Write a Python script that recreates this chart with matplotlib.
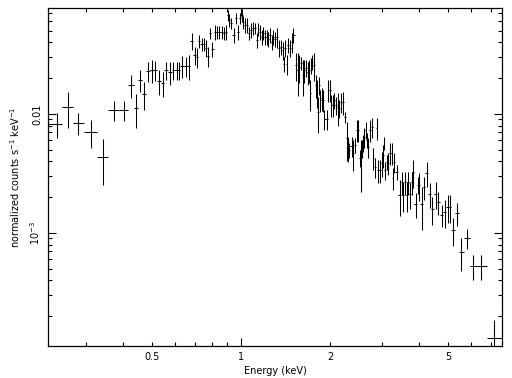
import numpy as np
import matplotlib
matplotlib.use("Agg")
import matplotlib.pyplot as plt
from matplotlib.ticker import FixedLocator, FixedFormatter, NullFormatter

# Spectrum: bin centres (keV), flux and 1-sigma error (units of 1e-3)
energy = [
    0.239, 0.260, 0.281, 0.311, 0.342, 0.372, 0.403, 0.425, 0.442, 0.456,
    0.470, 0.485, 0.500, 0.512, 0.528, 0.545, 0.558, 0.576, 0.589, 0.608,
    0.617, 0.632, 0.652, 0.667, 0.683, 0.699, 0.710, 0.721, 0.738, 0.750,
    0.762, 0.774, 0.786, 0.798, 0.817, 0.830, 0.843, 0.863, 0.876, 0.890,
    0.904, 0.911, 0.925, 0.947, 0.962, 0.977, 0.992, 1.008, 1.016, 1.032,
    1.048, 1.064, 1.081, 1.098, 1.115, 1.133, 1.141, 1.159, 1.177, 1.187,
    1.205, 1.224, 1.234, 1.253, 1.273, 1.283, 1.303, 1.323, 1.344, 1.365,
    1.386, 1.397, 1.408, 1.430, 1.441, 1.464, 1.487, 1.499, 1.534, 1.558,
    1.570, 1.595, 1.620, 1.633, 1.658, 1.684, 1.697, 1.711, 1.724, 1.737,
    1.765, 1.792, 1.806, 1.820, 1.835, 1.849, 1.878, 1.893, 1.908, 1.952,
    1.968, 1.999, 2.014, 2.046, 2.062, 2.094, 2.127, 2.143, 2.177, 2.211,
    2.246, 2.281, 2.299, 2.317, 2.371, 2.390, 2.427, 2.465, 2.485, 2.524,
    2.543, 2.563, 2.583, 2.604, 2.644, 2.665, 2.686, 2.728, 2.771, 2.792,
    2.836, 2.880, 2.903, 2.948, 2.995, 3.018, 3.042, 3.065, 3.113, 3.138,
    3.187, 3.237, 3.262, 3.288, 3.365, 3.444, 3.498, 3.526, 3.581, 3.637,
    3.666, 3.723, 3.781, 3.811, 3.901, 3.962, 3.993, 4.087, 4.151, 4.249,
    4.349, 4.417, 4.557, 4.628, 4.775, 4.888, 5.003, 5.081, 5.201, 5.366,
    5.536, 5.801, 6.078, 6.470, 7.156,
]
flux_e3 = [
    8.24, 11.45, 8.40, 7.06, 4.35, 10.8, 10.8, 17.5, 11.2, 19.3,
    14.7, 23.0, 23.4, 23.4, 18.9, 18.2, 23.4, 22.5, 23.4, 23.4,
    23.4, 25.3, 25.3, 25.3, 41.1, 31.3, 30.1, 41.1, 38.7, 38.7,
    35.9, 30.7, 47.9, 35.2, 48.9, 48.9, 48.9, 48.9, 47.9, 48.9,
    67.9, 61.7, 58.2, 46.1, 64.1, 48.9, 64.1, 67.9, 59.3, 56.0,
    56.0, 47.9, 50.8, 52.8, 52.8, 41.9, 51.8, 48.9, 44.4, 47.9,
    44.4, 44.4, 42.7, 46.1, 40.3, 44.4, 42.7, 44.4, 35.9, 36.6,
    34.5, 26.3, 35.9, 26.3, 38.0, 35.9, 40.3, 46.1, 25.8, 23.4,
    24.8, 26.8, 21.3, 23.4, 24.4, 22.5, 23.4, 15.0, 25.8, 27.4,
    25.8, 17.5, 15.3, 10.4, 17.5, 13.1, 13.6, 13.1, 9.08, 9.08,
    15.9, 15.9, 11.9, 11.9, 13.1, 11.9, 11.45, 11.2, 12.6, 12.6,
    9.44, 6.29, 5.18, 4.98, 5.38, 4.70, 5.49, 7.34, 7.34, 4.27,
    4.11, 5.18, 5.71, 6.41, 7.34, 6.05, 5.28, 7.34, 7.78, 4.27,
    3.59, 7.63, 3.38, 3.38, 3.88, 4.52, 5.71, 3.38, 3.95, 3.88,
    4.70, 4.70, 2.90, 3.95, 3.26, 2.09, 2.68, 2.09, 2.68, 2.09,
    2.68, 2.13, 2.68, 3.26, 1.75, 2.53, 2.53, 1.75, 2.43, 3.19,
    2.13, 1.59, 2.13, 1.82, 1.42, 1.50, 1.65, 1.65, 1.06, 1.47,
    0.692, 0.908, 0.528, 0.528, 0.131,
]
err_e3 = [
    1.96, 3.85, 1.80, 1.84, 1.82, 2.1, 2.1, 3.8, 3.5, 4.1,
    3.9, 4.4, 5.0, 4.5, 4.5, 4.3, 4.0, 4.9, 4.0, 4.0,
    4.0, 5.4, 4.8, 6.0, 6.8, 5.3, 5.8, 5.0, 4.8, 4.8,
    6.0, 5.9, 4.9, 5.1, 7.1, 6.0, 6.0, 6.0, 5.9, 7.1,
    6.9, 7.5, 5.9, 6.7, 6.5, 7.1, 6.5, 8.0, 7.0, 8.1,
    8.1, 5.9, 7.4, 6.5, 5.4, 6.0, 6.4, 7.1, 6.4, 5.9,
    6.4, 6.4, 6.2, 6.7, 5.8, 6.4, 6.2, 8.4, 6.0, 5.3,
    5.8, 3.8, 6.0, 5.0, 5.5, 6.0, 7.6, 6.7, 6.8, 9.2,
    6.5, 3.5, 7.1, 5.0, 4.0, 4.9, 5.0, 4.3, 4.0, 3.9,
    6.8, 3.8, 4.0, 3.5, 3.0, 2.8, 2.9, 2.8, 1.7, 1.7,
    3.4, 3.4, 2.5, 2.5, 2.0, 2.0, 3.5, 1.9, 2.4, 2.7,
    1.0, 2.3, 1.2, 0.7, 1.0, 1.35, 0.8, 1.56, 1.56, 0.71,
    1.9, 0.87, 0.95, 1.2, 1.2, 0.87, 1.0, 1.56, 1.5, 0.9,
    0.7, 1.6, 0.73, 0.73, 0.9, 0.97, 0.7, 0.57, 0.57, 0.82,
    1.0, 1.0, 0.62, 0.75, 0.47, 0.7, 0.58, 0.6, 0.58, 0.6,
    0.58, 0.55, 0.58, 0.85, 0.42, 0.42, 0.66, 0.68, 0.52, 0.76,
    0.5, 0.42, 0.55, 0.39, 0.3, 0.39, 0.44, 0.44, 0.28, 0.32,
    0.216, 0.17, 0.125, 0.125, 0.055,
]
e_first_lo = 0.223
e_last_hi = 7.62

E = np.array(energy)
F = np.array(flux_e3) * 1e-3
dF = np.array(err_e3) * 1e-3

# contiguous bins: edges halfway (in log) between neighbouring centres
mids = np.sqrt(E[:-1] * E[1:])
lo = np.concatenate([[e_first_lo], mids])
hi = np.concatenate([mids, [e_last_hi]])

plt.rcParams['font.family'] = 'DejaVu Sans'
fig = plt.figure(figsize=(5.12, 3.78), dpi=100)
ax = fig.add_axes([48 / 512, 1 - 346 / 378, 454 / 512, 338 / 378])

ax.errorbar(E, F, xerr=[E - lo, hi - E], yerr=dF, fmt='none',
            ecolor='black', elinewidth=0.75, capsize=0)

ax.set_xscale('log')
ax.set_yscale('log')
ax.set_xlim(0.2228, 7.617)
ax.set_ylim(1.123e-4, 0.0778)

# x: 1 keV long tick, others short; labels at 0.5, 1, 2, 5
ax.xaxis.set_major_locator(FixedLocator([1]))
ax.xaxis.set_major_formatter(FixedFormatter(['1']))
xminor = [0.3, 0.4, 0.5, 0.6, 0.7, 0.8, 0.9, 2, 3, 4, 5, 6, 7]
ax.xaxis.set_minor_locator(FixedLocator(xminor))
ax.xaxis.set_minor_formatter(FixedFormatter(
    ['', '', '0.5', '', '', '', '', '2', '', '', '5', '', '']))

ax.yaxis.set_major_locator(FixedLocator([1e-3, 1e-2]))
ax.yaxis.set_major_formatter(FixedFormatter(['10$^{-3}$', '0.01']))
yminor = [k * 1e-4 for k in range(2, 10)] + [k * 1e-3 for k in range(2, 10)] + [k * 1e-2 for k in range(2, 8)]
ax.yaxis.set_minor_locator(FixedLocator(yminor))
ax.yaxis.set_minor_formatter(NullFormatter())

ax.tick_params(which='both', direction='in', top=True, right=True,
               width=0.8, labelsize=7, colors='black')
ax.tick_params(which='major', length=6, pad=4)
ax.tick_params(which='minor', length=3, pad=4)
for lab in ax.get_yticklabels():
    lab.set_rotation(90)
    lab.set_va('center')

for s in ax.spines.values():
    s.set_linewidth(0.9)

ax.set_xlabel('Energy (keV)', fontsize=7, labelpad=3)
ax.set_ylabel('normalized counts s$^{-1}$ keV$^{-1}$', fontsize=7, labelpad=5)

fig.savefig('out.png', dpi=100)
